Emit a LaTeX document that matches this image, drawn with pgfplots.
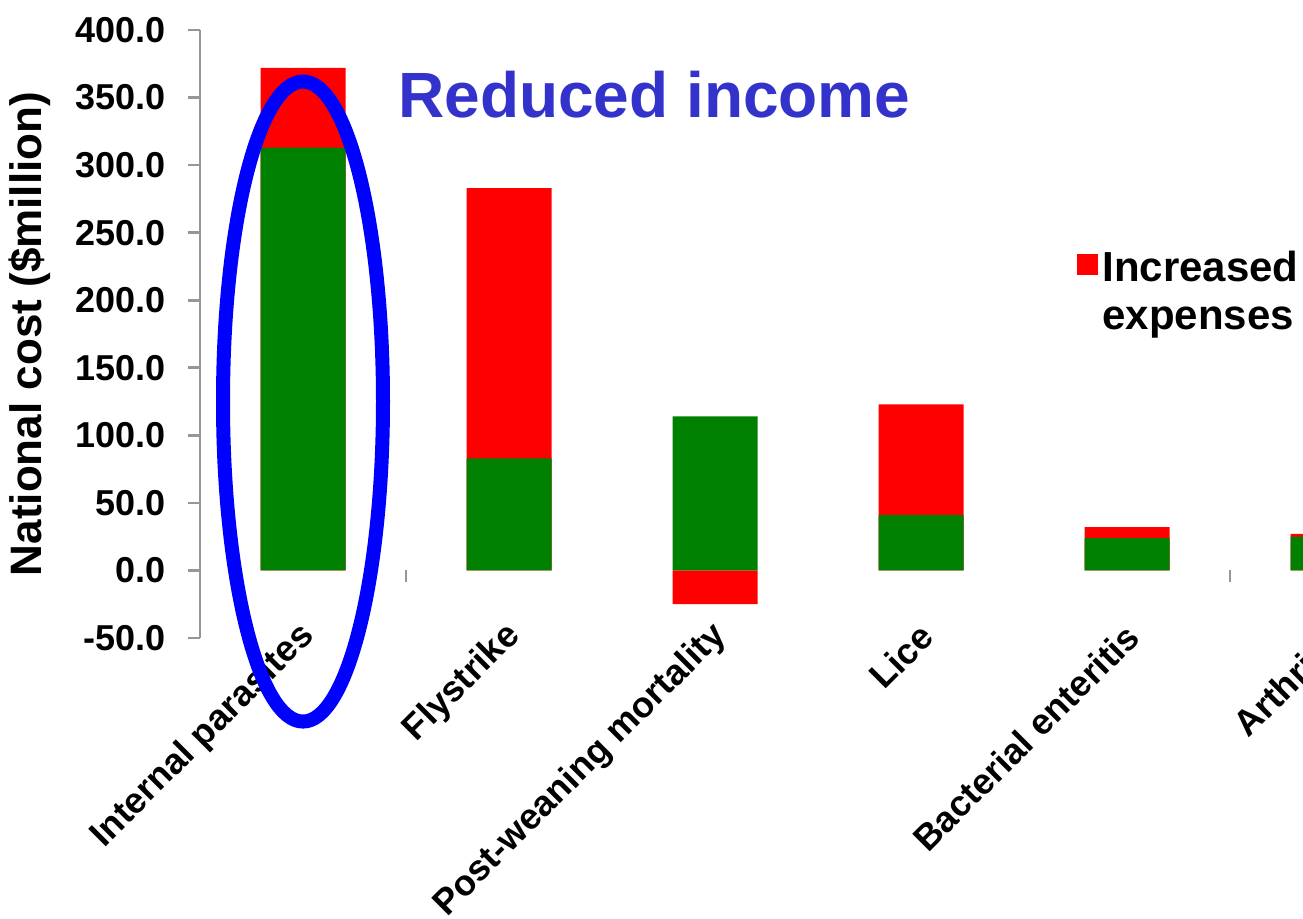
\documentclass[border=0pt]{standalone}
\usepackage{pgfplots}
\pgfplotsset{compat=1.18}
\usepackage{fontspec}
\setmainfont{Liberation Sans}
\definecolor{barred}{RGB}{255,0,0}
\definecolor{bargreen}{RGB}{0,128,0}
\definecolor{axgray}{RGB}{150,150,150}
\definecolor{txtblue}{RGB}{51,51,204}
\definecolor{ellblue}{RGB}{0,0,255}
\begin{document}
\begin{tikzpicture}
\path[use as bounding box, clip] (0,0) rectangle (651.5pt,459pt);
\begin{axis}[
  at={(100pt,140pt)}, anchor=south west,
  width=618pt, height=304pt, scale only axis,
  xmin=-0.5, xmax=5.5, ymin=-50, ymax=400,
  axis x line=middle, axis y line=left,
  hide obscured x ticks=false, hide obscured y ticks=false,
  x axis line style={draw=none},
  y axis line style={draw=axgray, line width=1.3pt, -},
  tick align=outside, major tick length=6pt,
  ytick={-50,0,50,100,150,200,250,300,350,400},
  ytick style={draw=axgray, line width=1.3pt},
  xtick={0,1,2,3,4,5},
  xticklabels={Internal parasites, Flystrike, Post-weaning mortality, Lice, Bacterial enteritis, Arthritis},
  xtick style={draw=none},
  extra x ticks={0.5,4.5},
  extra x tick labels={},
  extra x tick style={xtick style={draw=axgray, line width=1.3pt}},
  yticklabel style={font=\fontsize{18}{20}\selectfont\bfseries, xshift=-7.5pt},
  xticklabel style={font=\fontsize{18}{20}\selectfont\bfseries, xshift=3pt, yshift=-24pt, rotate=45, anchor=east, inner sep=0pt},
  /pgf/number format/.cd, fixed, fixed zerofill, precision=1, assume math mode=true,
  /pgfplots/.cd,
  ylabel={National cost (\$million)},
  every axis y label/.style={at={(axis description cs:0,0.5)}, xshift=-85pt, rotate=90, anchor=center, font=\fontsize{22}{24}\selectfont\bfseries},
  legend style={at={(axis description cs:0.7095,0.643)}, anchor=north west, draw=none, fill=none, font=\fontsize{21}{24}\selectfont\bfseries, cells={align=left}, inner sep=0pt},
  legend cell align=left,
  legend image code/.code={\fill[barred] (0pt,8.5pt) rectangle (10.5pt,19pt);},
]
\addplot[ybar, bar width=42.5pt, bar shift=0pt, fill=barred, draw=none]
  coordinates {(0,372) (1,283) (2,-25) (3,123) (4,32) (5,27)};
\addlegendentry{Increased\\expenses}
\addplot[ybar, bar width=42.5pt, bar shift=0pt, fill=bargreen, draw=none, forget plot]
  coordinates {(0,313) (1,83) (2,114) (3,41) (4,24) (5,25)};
\coordinate (ec) at (axis cs:0,125);
\end{axis}
\draw[ellblue, line width=7pt] (ec) ellipse [x radius=40pt, y radius=160pt];
\node[anchor=base west, inner sep=0pt, text=txtblue, font=\fontsize{32}{38}\selectfont\bfseries] at (199pt,400pt) {Reduced income};
\end{tikzpicture}
\end{document}
